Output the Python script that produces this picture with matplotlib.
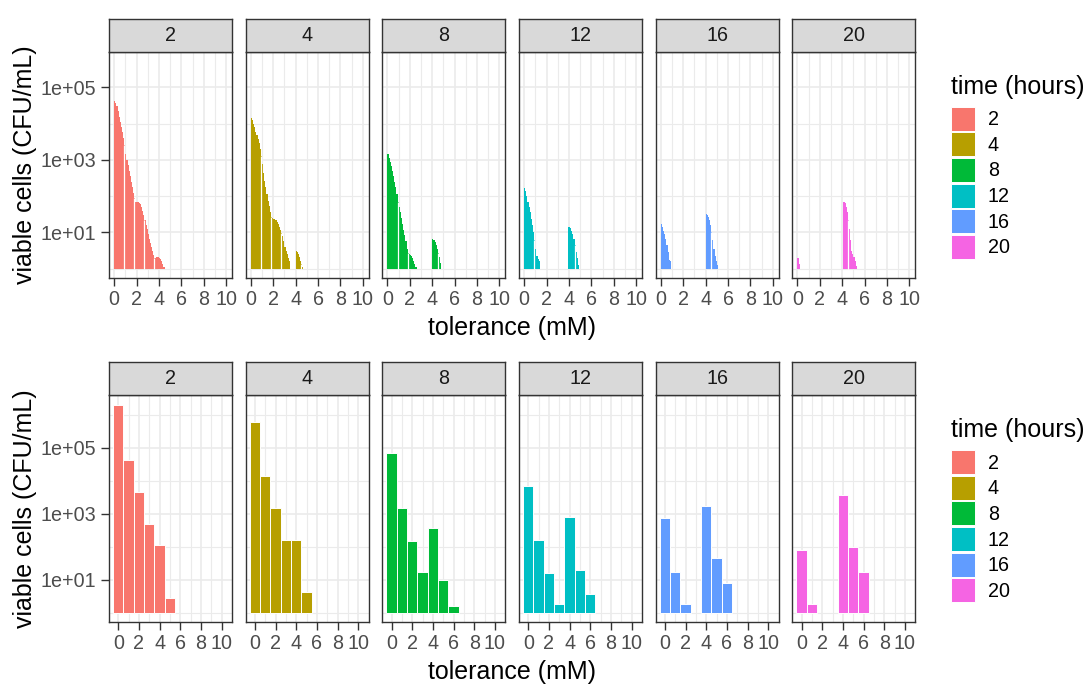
import numpy as np
import matplotlib
matplotlib.use("Agg")
import matplotlib.pyplot as plt
from matplotlib.patches import Patch
from matplotlib.ticker import FixedLocator, NullFormatter

plt.rcParams['font.family'] = ['Liberation Sans', 'DejaVu Sans']

times = ["2", "4", "8", "12", "16", "20"]
colors = ["#F8766D", "#B79F00", "#00BA38", "#00BFC4", "#619CFF", "#F564E3"]

# ---- top row: log10(viable cells) in 0.1 mM bins, as (start mM, values) segments
fine_bin = 0.1
top_2 = [(0.0, [4.63, 4.58, 4.48, 4.35, 4.19, 4.05, 3.92, 3.77, 3.60, 3.42,
                3.15, 3.00, 2.85, 2.70, 2.55, 2.40, 2.25, 2.10, 1.95, 1.85,
                1.85, 1.85, 1.82, 1.77, 1.70, 1.60, 1.48, 1.35, 1.20, 1.10,
                0.95, 0.83, 0.70, 0.60, 0.48, 0.38, 0.30, 0.32, 0.33, 0.33,
                0.30, 0.26, 0.20, 0.12, 0.05])]
top_4 = [(0.0, [4.17, 4.10, 4.00, 3.90, 3.78, 3.68, 3.58, 3.48, 3.30, 3.10,
                2.90, 2.65, 2.42, 2.25, 2.05, 1.88, 1.72, 1.55, 1.43, 1.40,
                1.38, 1.36, 1.33, 1.28, 1.22, 1.15, 1.07, 0.98, 0.90, 0.75,
                0.60, 0.50, 0.40, 0.30, 0.22]),
         (4.0, [0.49, 0.45, 0.40, 0.32, 0.22, 0.12, 0.04])]
top_8 = [(0.0, [3.15, 3.05, 2.95, 2.83, 2.70, 2.55, 2.40, 2.25, 2.05, 1.85,
                1.70, 1.55, 1.40, 1.23, 1.08, 0.92, 0.75, 0.55, 0.42, 0.40,
                0.39, 0.36, 0.30, 0.22, 0.13, 0.05]),
         (4.0, [0.82, 0.80, 0.74, 0.66, 0.55, 0.42, 0.33, 0.15])]
top_12 = [(0.0, [2.23, 2.15, 2.00, 1.85, 1.70, 1.55, 1.38, 1.20, 1.00, 0.80,
                 0.55, 0.35, 0.27, 0.20]),
          (3.9, [1.15, 1.16, 1.12, 1.05, 0.95, 0.82, 0.65, 0.45, 0.30, 0.10])]
top_16 = [(0.0, [1.22, 1.15, 1.05, 0.95, 0.82, 0.65, 0.45, 0.25, 0.20]),
          (4.0, [1.50, 1.48, 1.42, 1.35, 1.20, 1.00, 0.80, 0.55, 0.35, 0.20, 0.10])]
top_20 = [(0.0, [0.28, 0.12]),
          (4.1, [1.83, 1.80, 1.70, 1.55, 1.35, 1.10, 0.80, 0.50, 0.40, 0.33, 0.20, 0.08])]
top_data = [top_2, top_4, top_8, top_12, top_16, top_20]

# ---- bottom row: log10(viable cells) in 1 mM bins centred on 0..6 (nan = empty)
nan = np.nan
bot_x = [0, 1, 2, 3, 4, 5, 6]
bot_2 = [6.29, 4.63, 3.65, 2.70, 2.06, 0.46, nan]
bot_4 = [5.78, 4.15, 3.18, 2.22, 2.22, 0.64, nan]
bot_8 = [4.84, 3.17, 2.19, 1.24, 2.57, 0.98, 0.22]
bot_12 = [3.85, 2.22, 1.21, 0.26, 2.90, 1.31, 0.57]
bot_16 = [2.87, 1.24, 0.26, nan, 3.24, 1.65, 0.91]
bot_20 = [1.89, 0.26, nan, nan, 3.58, 1.99, 1.24]
bot_data = [bot_2, bot_4, bot_8, bot_12, bot_16, bot_20]

x_ticks = [0, 2, 4, 6, 8, 10]
y_ticks = [1e1, 1e3, 1e5]
y_ticklabels = ["1e+01", "1e+03", "1e+05"]

W, H = 1090, 685
fig = plt.figure(figsize=(W / 100, H / 100), dpi=100)

FS_SMALL = 14.2
FS_TITLE = 18


def fax(l, t, w, h):
    return fig.add_axes([l / W, 1 - (t + h) / H, w / W, h / H])


BORDER = "#333333"
GRID = "#EBEBEB"
panel_w = 123.0
lefts = [109 + i * 136.66 for i in range(6)]
strip_h = 33

rows = [
    dict(top=52.3, h=225.4, xlim=(-0.46, 10.52), ylim=(10 ** -0.25, 10 ** 5.97), kind="fine"),
    dict(top=395.0, h=227.0, xlim=(-0.9, 11.0), ylim=(10 ** -0.28, 10 ** 6.6), kind="coarse"),
]


def style_axes(ax, r, first):
    ax.set_yscale("log")
    ax.set_xlim(*r["xlim"])
    ax.set_ylim(*r["ylim"])
    ax.xaxis.set_major_locator(FixedLocator(x_ticks))
    ax.xaxis.set_minor_locator(FixedLocator([1, 3, 5, 7, 9]))
    ax.yaxis.set_major_locator(FixedLocator(y_ticks))
    ax.yaxis.set_minor_locator(FixedLocator([1e0, 1e2, 1e4, 1e6]))
    ax.xaxis.set_minor_formatter(NullFormatter())
    ax.yaxis.set_minor_formatter(NullFormatter())
    ax.set_xticklabels([str(t) for t in x_ticks])
    if first:
        ax.set_yticklabels(y_ticklabels)
        ax.tick_params(axis="y", which="major", length=6, width=1.0,
                       color=BORDER, labelsize=FS_SMALL, labelcolor="#4D4D4D", pad=3)
    else:
        ax.tick_params(axis="y", which="major", length=0, labelleft=False)
    ax.tick_params(axis="x", which="major", length=6, width=1.0, color=BORDER,
                   labelsize=FS_SMALL, labelcolor="#4D4D4D", pad=2.5)
    ax.tick_params(which="minor", length=0)
    ax.grid(True, which="major", color=GRID, lw=1.2)
    ax.grid(True, which="minor", color=GRID, lw=0.8)
    ax.set_axisbelow(True)
    for s in ax.spines.values():
        s.set_color(BORDER)
        s.set_linewidth(1.0)
        s.set_zorder(5)


for ri, r in enumerate(rows):
    for i, t in enumerate(times):
        ax = fax(lefts[i], r["top"], panel_w, r["h"])
        style_axes(ax, r, i == 0)
        col = colors[i]
        if r["kind"] == "fine":
            for start, vals in top_data[i]:
                v = np.array(vals)
                x = start + fine_bin * np.arange(len(v))
                hgt = 10 ** v
                ax.bar(x, hgt - 1, bottom=1, width=fine_bin, align="edge",
                       color=col, linewidth=0)
                # white seams between bin groups
                idx = [k for k in range(1, len(v)) if round((x[k]) / fine_bin) % 9 == 0]
                if idx:
                    ax.vlines(x[idx], 1, np.minimum(hgt[idx], hgt[np.array(idx) - 1]),
                              color="white", lw=0.9)
        else:
            v = np.array(bot_data[i], dtype=float)
            ok = ~np.isnan(v)
            xs = np.array(bot_x)[ok]
            ax.bar(xs, 10 ** v[ok] - 1, bottom=1, width=1.0, color=col,
                   edgecolor="white", linewidth=0.7)
        # strip
        sax = fax(lefts[i], r["top"] - strip_h, panel_w, strip_h)
        sax.set_facecolor("#D9D9D9")
        sax.set_xticks([])
        sax.set_yticks([])
        for s in sax.spines.values():
            s.set_color(BORDER)
            s.set_linewidth(1.0)
        sax.text(0.5, 0.5, t, ha="center", va="center", fontsize=FS_SMALL,
                 color="#1A1A1A", transform=sax.transAxes)

    # axis titles
    cy = r["top"] + r["h"] / 2
    fig.text(25 / W, 1 - cy / H, "viable cells (CFU/mL)", rotation=90,
             ha="center", va="center", fontsize=FS_TITLE)
    xt_y = r["top"] + r["h"] + 50
    fig.text(511.5 / W, 1 - xt_y / H, "tolerance (mM)", ha="center",
             va="center", fontsize=FS_TITLE)

    handles = [Patch(facecolor=c, edgecolor="white", linewidth=0.7) for c in colors]
    leg = fig.legend(handles, times, title="time (hours)", loc="upper left",
                     bbox_to_anchor=(951 / W, 1 - (cy - 90) / H), frameon=False,
                     fontsize=FS_SMALL, title_fontsize=FS_TITLE, handlelength=1.22,
                     handleheight=1.5, labelspacing=0.08, handletextpad=0.65,
                     borderpad=0, borderaxespad=0, alignment="left")
    leg._legend_box.sep = 5.5

fig.savefig("out.png", dpi=100)
